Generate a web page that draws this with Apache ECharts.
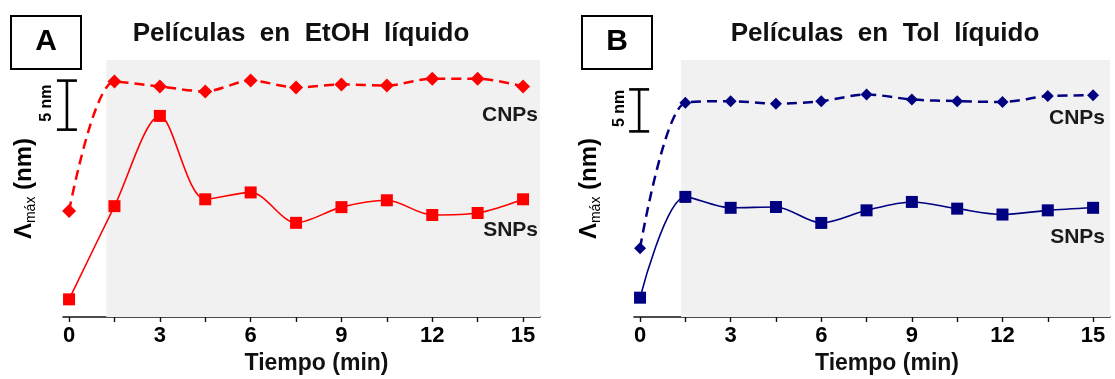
<!DOCTYPE html>
<html>
<head>
<meta charset="utf-8">
<script src="https://cdn.jsdelivr.net/npm/echarts@6/dist/echarts.min.js"></script>
<style>
html,body{margin:0;padding:0;background:#fff;}
#chart{width:1115px;height:379px;}
</style>
</head>
<body>
<div id="chart"></div>
<script>
// ---- data ----
const time = [0, 1.5, 3, 4.5, 6, 7.5, 9, 10.5, 12, 13.5, 15];
const etohCNPs = [10.8, 24.0, 23.5, 23.0, 24.1, 23.4, 23.7, 23.6, 24.3, 24.3, 23.5];
const etohSNPs = [1.8, 11.3, 20.5, 12.0, 12.7, 9.6, 11.2, 11.9, 10.4, 10.6, 12.0];
const tolCNPs = [8.2, 25.5, 25.7, 25.4, 25.7, 26.5, 25.9, 25.7, 25.6, 26.3, 26.4];
const tolSNPs = [2.3, 14.3, 13.0, 13.1, 11.2, 12.7, 13.7, 12.9, 12.2, 12.7, 13.0];
const tickValues = [0, 1.5, 3, 4.5, 6, 7.5, 9, 10.5, 12, 13.5, 15];
const labelValues = [0, 3, 6, 9, 12, 15];
const shadeStart = [1.23, 1.36];      // min, start of shaded region
const scaleBarLeft = [-0.07, 19.1, 24.1];   // x, y from, y to (5 nm)
const scaleBarRight = [-0.03, 22.1, 27.1];
const titles = ['Películas  en  EtOH  líquido', 'Películas  en  Tol  líquido'];
const panelLetters = ['A', 'B'];

const FONT = '"Liberation Sans", Arial, sans-serif';
const chart = echarts.init(document.getElementById('chart'), null, {renderer: 'canvas'});

function pairs(xs, ys) { return xs.map((x, i) => [x, ys[i]]); }

function xAxisCfg(gridIndex) {
  return {
    type: 'value', gridIndex: gridIndex, min: -0.2, max: 15.56,
    name: 'Tiempo (min)', nameLocation: 'middle', nameGap: 34,
    nameTextStyle: {fontFamily: FONT, fontWeight: 'bold', fontSize: 23, color: '#111', padding: [0, 0, 0, 30]},
    axisLine: {show: true, lineStyle: {color: '#111', width: 1.6}},
    axisTick: {show: true, customValues: tickValues, length: 5, lineStyle: {color: '#111', width: 1.4}},
    axisLabel: {show: true, customValues: labelValues, fontFamily: FONT, fontWeight: 'bold', fontSize: 22, color: '#000', margin: 8},
    splitLine: {show: false}
  };
}
function yAxisCfg(gridIndex, max, gap) {
  return {
    type: 'value', gridIndex: gridIndex, min: 0, max: max,
    name: '{l|Λ}{s|máx}{l| (nm)}', nameLocation: 'middle', nameGap: gap, nameRotate: 90,
    nameTextStyle: {
      rich: {
        l: {fontFamily: FONT, fontWeight: 'bold', fontSize: 24, color: '#000', lineHeight: 28, verticalAlign: 'middle'},
        s: {fontFamily: FONT, fontWeight: 'normal', fontSize: 14, color: '#000', lineHeight: 22, verticalAlign: 'bottom'}
      }
    },
    axisLine: {show: false}, axisTick: {show: false}, axisLabel: {show: false}, splitLine: {show: false}
  };
}
function scaleBarSeries(idx, bar) {
  return {
    type: 'custom', xAxisIndex: idx, yAxisIndex: idx, clip: false, z: 5,
    data: [bar],
    renderItem: function (params, api) {
      const x = api.value(0), ya = api.value(1), yb = api.value(2);
      const p0 = api.coord([x, ya]), p1 = api.coord([x, yb]);
      const half = 10;
      const st = {stroke: '#000', lineWidth: 2.6};
      return {type: 'group', children: [
        {type: 'line', shape: {x1: p0[0], y1: p0[1], x2: p1[0], y2: p1[1]}, style: st},
        {type: 'line', shape: {x1: p0[0] - half, y1: p0[1], x2: p0[0] + half, y2: p0[1]}, style: st},
        {type: 'line', shape: {x1: p1[0] - half, y1: p1[1], x2: p1[0] + half, y2: p1[1]}, style: st},
        {type: 'text', x: p0[0] - 20, y: (p0[1] + p1[1]) / 2 - 2, rotation: Math.PI / 2,
          style: {text: '5 nm', font: 'bold 16px ' + FONT, fill: '#000', align: 'center', verticalAlign: 'middle'}}
      ]};
    }
  };
}
function lineSeries(idx, ys, color, symbol, size, dashed, width, shade, ymax) {
  const s = {
    type: 'line', xAxisIndex: idx, yAxisIndex: idx, data: pairs(time, ys),
    smooth: 0.3, symbol: symbol, symbolSize: size, showSymbol: true,
    itemStyle: {color: color}, lineStyle: {color: color, width: width, type: dashed ? [10, 6] : 'solid'},
    z: 3, animation: false
  };
  if (shade !== undefined) {
    s.markArea = {silent: true, itemStyle: {color: '#f1f1f1'},
      data: [[{xAxis: shade, yAxis: 0}, {xAxis: 15.56, yAxis: ymax}]]};
  }
  return s;
}

const graphics = [];
const boxX = [10, 581];
const titleX = [301, 885];
for (let i = 0; i < 2; i++) {
  graphics.push({type: 'rect', left: boxX[i], top: 15, shape: {width: 70, height: 53},
    style: {fill: '#fff', stroke: '#000', lineWidth: 2}});
  graphics.push({type: 'text', x: boxX[i] + 36, y: 42, style: {text: panelLetters[i], font: 'bold 30px ' + FONT,
    fill: '#000', align: 'center', verticalAlign: 'middle'}});
  graphics.push({type: 'text', x: titleX[i], y: 34, style: {text: titles[i], font: 'bold 26px ' + FONT,
    fill: '#111', align: 'center', verticalAlign: 'middle'}});
}
const lblPos = [[538, 115, 230], [1105, 118, 237]];
for (let i = 0; i < 2; i++) {
  graphics.push({type: 'text', x: lblPos[i][0], y: lblPos[i][1], z: 10, style: {text: 'CNPs', font: 'bold 21px ' + FONT,
    fill: '#1a1a1a', align: 'right', verticalAlign: 'middle'}});
  graphics.push({type: 'text', x: lblPos[i][0], y: lblPos[i][2], z: 10, style: {text: 'SNPs', font: 'bold 21px ' + FONT,
    fill: '#1a1a1a', align: 'right', verticalAlign: 'middle'}});
}

const option = {
  animation: false,
  backgroundColor: '#fff',
  grid: [
    {left: 63, top: 60, width: 477, height: 257, outerBoundsMode: 'none', containLabel: false},
    {left: 634, top: 60, width: 476, height: 257, outerBoundsMode: 'none', containLabel: false}
  ],
  xAxis: [xAxisCfg(0), xAxisCfg(1)],
  yAxis: [yAxisCfg(0, 26.2, 25), yAxisCfg(1, 30.6, 31)],
  series: [
    lineSeries(0, etohSNPs, '#ff0000', 'rect', 12, false, 1.6, shadeStart[0], 26.2),
    lineSeries(0, etohCNPs, '#ff0000', 'diamond', 14, true, 2.5),
    lineSeries(1, tolSNPs, '#000080', 'rect', 12, false, 1.6, shadeStart[1], 30.6),
    lineSeries(1, tolCNPs, '#000080', 'diamond', 12, true, 2.5),
    scaleBarSeries(0, scaleBarLeft),
    scaleBarSeries(1, scaleBarRight)
  ],
  graphic: graphics
};
chart.setOption(option);
</script>
</body>
</html>
